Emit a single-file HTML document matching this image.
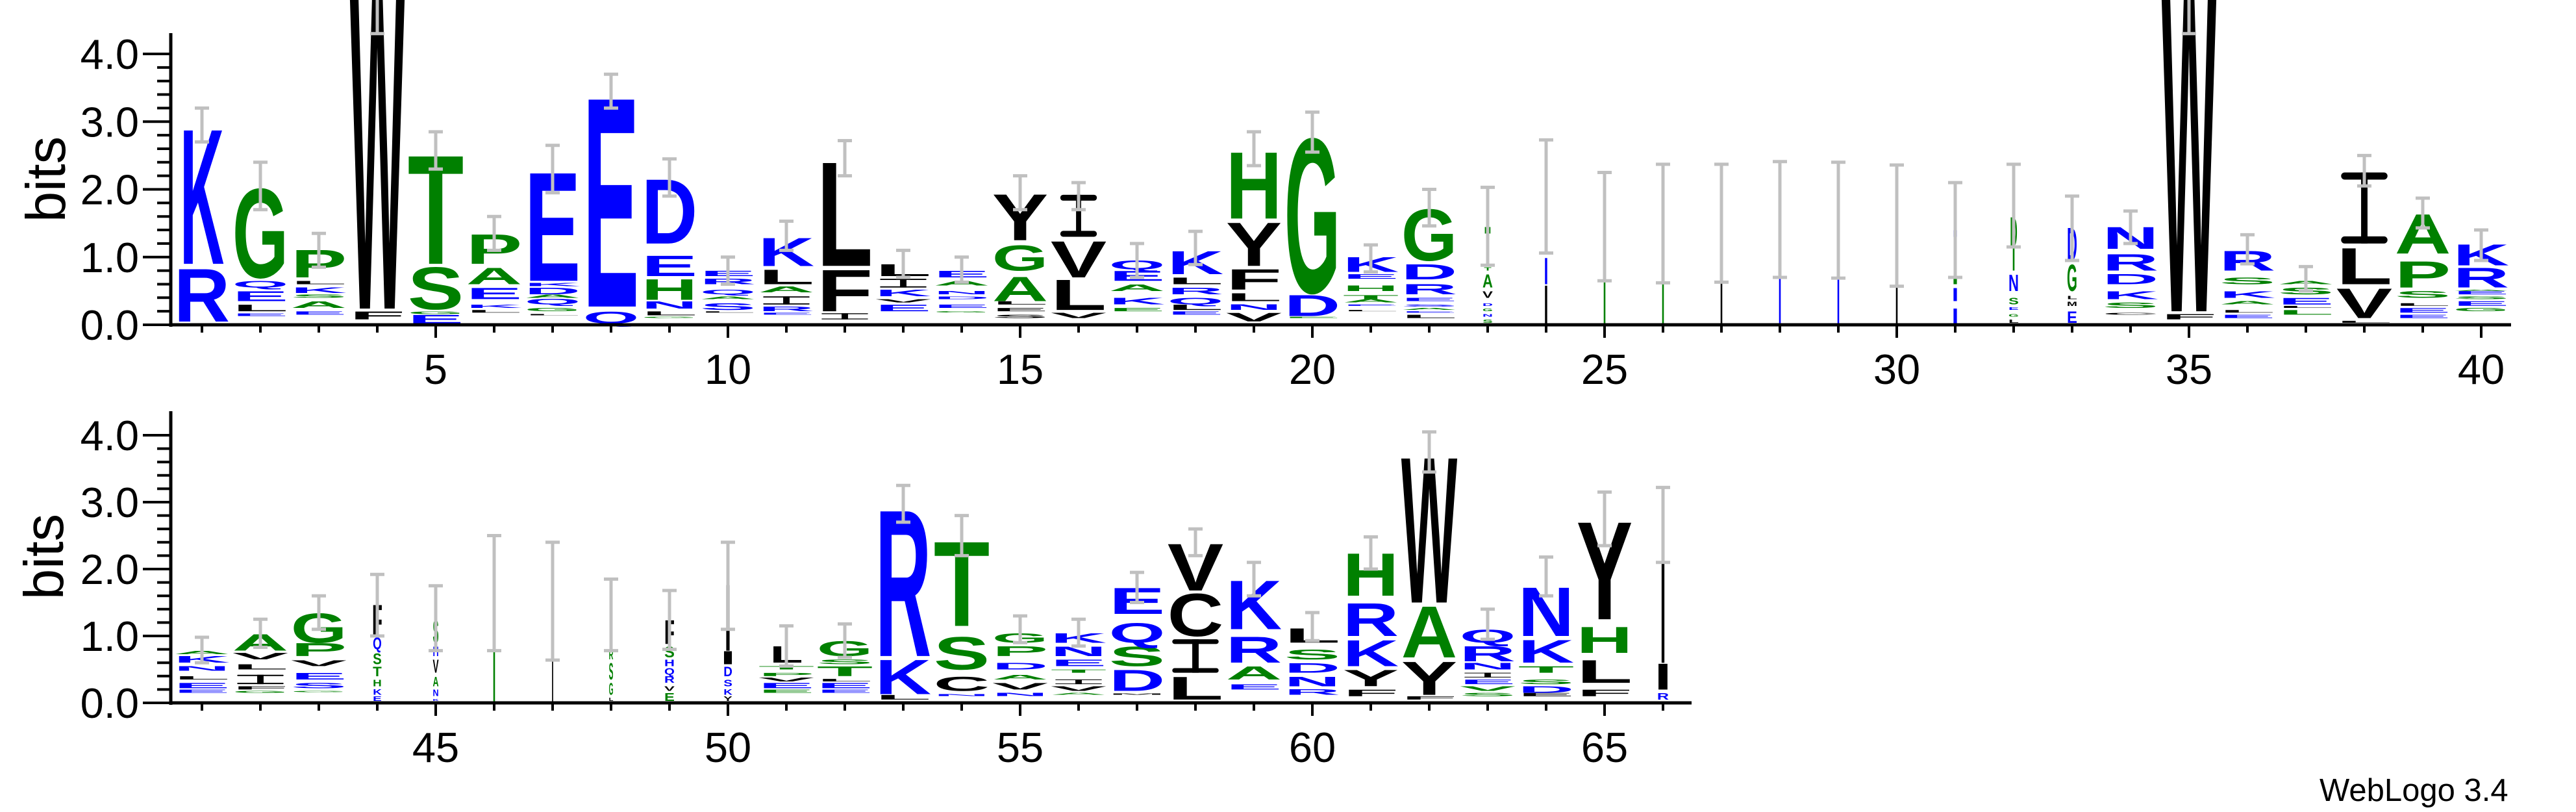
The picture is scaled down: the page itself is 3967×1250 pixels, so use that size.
<!DOCTYPE html>
<html><head><meta charset="utf-8">
<style>
html,body{margin:0;padding:0;background:#fff;}
svg{display:block;}
text{font-family:"Liberation Sans",sans-serif;}
</style></head>
<body>
<svg id="s" xmlns="http://www.w3.org/2000/svg" width="3967" height="1250" viewBox="0 0 3967 1250">
<rect width="3967" height="1250" fill="#fff"/>
<g id="logo"></g>
<g id="axes" fill="#000">
<text x="3572" y="1233" font-size="49">WebLogo 3.4</text>
<text transform="translate(100,276) rotate(-90)" font-size="85" text-anchor="middle">bits</text>
<text transform="translate(97,857) rotate(-90)" font-size="85" text-anchor="middle">bits</text>
</g>
</svg>
<script>
(function(){
var NS="http://www.w3.org/2000/svg";
var C={b:"#0000ff",g:"#008000",k:"#000000"};
var D={
1:[[["R",.05,.85,"b"],["K",.9,2.95,"b",60]],[2.7,3.2]],
2:[[["E",.13,.17,"b"],["L",.2,.3,"k"],["E",.35,.5,"b"],["Q",.55,.65,"b"],["G",.7,2.05,"g"]],[1.7,2.4]],
3:[[["E",.15,.2,"b"],["A",.25,.35,"g"],["S",.4,.45,"g"],["K",.47,.55,"b"],["L",.6,.65,"k"],["P",.7,1.12,"g"]],[.85,1.35]],
4:[[["F",.08,.2,"k"],["W",.24,5.3,"k"]],[4.3,6]],
5:[[["E",.02,.15,"b"],["G",.16,.2,"g"],["S",.23,.87,"g"],["T",.9,2.55,"g"]],[2.3,2.85]],
6:[[["L",.18,.22,"k"],["K",.25,.3,"b"],["E",.38,.55,"b"],["A",.6,.85,"g"],["P",.9,1.35,"g"]],[1.1,1.6]],
7:[[["L",.14,.16,"k"],["G",.2,.25,"g"],["Q",.3,.38,"b"],["A",.4,.45,"g"],["D",.45,.55,"b"],["K",.57,.62,"b"],["E",.65,2.3,"b"]],[1.95,2.65]],
8:[[["Q",.02,.2,"b"],["E",.27,3.45,"b"]],[3.2,3.7]],
9:[[["G",.1,.12,"g"],["L",.14,.2,"k"],["N",.24,.35,"b"],["H",.37,.68,"g"],["E",.72,1.03,"b"],["D",1.2,2.18,"b"]],[1.9,2.45]],
10:[[["L",.18,.2,"k"],["S",.22,.32,"b"],["A",.38,.42,"g"],["Q",.45,.52,"b"],["R",.6,.68,"b"],["E",.72,.8,"b"]],[.6,1.0]],
11:[[["E",.15,.18,"b"],["R",.2,.27,"b"],["I",.3,.42,"k"],["A",.48,.57,"g"],["L",.6,.82,"k"],["K",.87,1.3,"b"]],[1.1,1.53]],
12:[[["I",.08,.17,"k"],["F",.2,.83,"k"],["L",.87,2.45,"k"]],[2.2,2.72]],
13:[[["E",.2,.3,"b"],["V",.33,.38,"k"],["K",.42,.52,"b"],["I",.55,.68,"k"],["L",.72,.9,"k"]],[.7,1.1]],
14:[[["G",.18,.2,"g"],["E",.25,.3,"b"],["D",.38,.42,"b"],["N",.45,.5,"b"],["A",.58,.65,"g"],["E",.7,.8,"b"]],[.63,1.0]],
15:[[["S",.1,.15,"k"],["E",.2,.25,"k"],["L",.3,.35,"k"],["A",.35,.72,"g"],["G",.8,1.18,"g"],["Y",1.25,1.95,"k"]],[1.7,2.2]],
16:[[["V",.1,.18,"k"],["L",.22,.68,"k"],["V",.7,1.25,"k"],["I",1.3,1.92,"k",60]],[1.7,2.1]],
17:[[["E",.2,.25,"g"],["K",.3,.4,"b"],["A",.5,.6,"g"],["E",.65,.8,"b"],["Q",.82,.95,"b"]],[.7,1.2]],
18:[[["E",.15,.2,"b"],["L",.22,.3,"k"],["Q",.3,.4,"b"],["R",.45,.55,"b"],["L",.6,.7,"k"],["K",.75,1.1,"b"]],[.89,1.38]],
19:[[["V",.05,.18,"k"],["N",.22,.3,"b"],["L",.35,.47,"k"],["F",.52,.83,"k"],["Y",.87,1.53,"k"],["H",1.57,2.58,"g"]],[2.35,2.85]],
20:[[["E",.1,.12,"g"],["D",.13,.45,"b"],["G",.48,2.82,"g"]],[2.55,3.14]],
21:[[["L",.2,.22,"k"],["E",.28,.3,"b"],["A",.33,.38,"g"],["T",.38,.44,"g"],["H",.5,.58,"g"],["E",.68,.75,"b"],["K",.78,1.0,"b"]],[.78,1.18]],
22:[[["L",.1,.15,"k"],["E",.18,.2,"b"],["A",.22,.25,"g"],["S",.27,.3,"b"],["E",.35,.4,"b"],["R",.45,.6,"b"],["D",.67,.9,"b"],["G",.95,1.73,"g"]],[1.46,2.0]],
23:[[["S",.03,.08,"g",14],["N",.12,.16,"b",14],["G",.2,.24,"g",14],["D",.28,.32,"b",14],["V",.4,.5,"k",14],["A",.55,.75,"g",14],["T",.8,.85,"g",10],["I",1.35,1.45,"g",10]],[.88,2.03]],
24:[[["I",.02,.6,"k",4],["I",.6,1.0,"b",4],["I",1.7,1.9,"g",2]],[1.06,2.73]],
25:[[["I",.02,.65,"g",3],["I",.66,1.45,"b",3]],[.65,2.25]],
26:[[["I",.02,1.5,"g",3]],[.62,2.37]],
27:[[["I",.02,1.5,"k",3]],[.63,2.37]],
28:[[["I",.02,1.55,"b",3]],[.7,2.41]],
29:[[["I",.02,1.55,"b",3]],[.69,2.4]],
30:[[["I",.02,1.45,"k",3]],[.57,2.36]],
31:[[["I",.02,.25,"b",6],["I",.35,.55,"b",6],["I",.6,.7,"g",6],["I",1.3,1.4,"b",6]],[.7,2.1]],
32:[[["L",.03,.08,"k",14],["G",.12,.16,"g",14],["E",.22,.26,"b",14],["S",.3,.4,"g",14],["N",.5,.75,"b",14],["I",.8,1.15,"g",3],["D",1.15,1.6,"g",10]],[1.15,2.37]],
33:[[["E",.03,.2,"b",14],["M",.28,.34,"k",14],["L",.38,.43,"k",14],["G",.5,.9,"g",14],["D",.95,1.45,"b",14]],[.95,1.9]],
34:[[["C",.15,.18,"k"],["S",.25,.33,"g"],["K",.38,.5,"b"],["D",.6,.75,"b"],["R",.8,1.05,"b"],["N",1.12,1.45,"b"]],[1.2,1.68]],
35:[[["F",.08,.16,"k"],["W",.2,5.3,"k"]],[4.3,6]],
36:[[["E",.1,.15,"b"],["L",.18,.22,"k"],["A",.3,.35,"g"],["K",.4,.5,"b"],["S",.6,.7,"g"],["R",.8,1.1,"b"]],[.9,1.33]],
37:[[["L",.15,.22,"g"],["L",.25,.28,"k"],["E",.3,.4,"b"],["S",.45,.55,"g"],["A",.6,.65,"g"]],[.5,.86]],
38:[[["L",.03,.06,"k"],["V",.1,.55,"k"],["L",.6,1.15,"k"],["I",1.2,2.25,"k",76]],[2.05,2.5]],
39:[[["E",.1,.15,"b"],["E",.18,.25,"b"],["L",.28,.32,"k"],["S",.4,.5,"g"],["P",.55,.95,"g"],["A",1.05,1.65,"g"]],[1.43,1.87]],
40:[[["G",.2,.25,"g"],["E",.28,.35,"b"],["S",.38,.42,"g"],["E",.45,.5,"b"],["A",.5,.52,"g"],["R",.55,.85,"b"],["K",.88,1.2,"b"]],[.95,1.4]],
41:[[["E",.15,.2,"b"],["E",.22,.3,"b"],["L",.35,.4,"k"],["N",.48,.55,"b"],["K",.6,.7,"b"],["A",.73,.78,"g"]],[.6,.98]],
42:[[["G",.15,.18,"g"],["F",.2,.25,"k"],["I",.28,.42,"k"],["L",.5,.58,"k"],["V",.65,.75,"k"],["A",.78,1.03,"g"]],[.83,1.25]],
43:[[["G",.16,.18,"g"],["S",.22,.3,"b"],["E",.35,.45,"b"],["V",.55,.64,"k"],["P",.7,.9,"g"],["G",.9,1.35,"g"]],[1.1,1.6]],
44:[[["E",.03,.1,"b",12],["K",.12,.2,"b",12],["H",.25,.35,"g",12],["T",.4,.55,"g",12],["S",.58,.75,"g",12],["Q",.8,.98,"b",12],["F",1.0,1.48,"k",14]],[1.0,1.92]],
45:[[["K",.03,.06,"b",8],["N",.1,.2,"b",8],["A",.25,.4,"g",8],["V",.45,.65,"k",8],["H",.7,.85,"b",8],["S",.9,1.25,"g",8]],[.78,1.75]],
46:[[["I",.02,1.65,"g",3]],[.78,2.5]],
47:[[["I",.02,1.5,"k",2]],[.64,2.4]],
48:[[["L",.03,.08,"k",6],["G",.12,.3,"g",6],["S",.35,.6,"g",6],["R",.65,.8,"g",6],["I",.9,1.3,"g",4]],[.78,1.85]],
49:[[["E",.03,.15,"g",14],["V",.18,.25,"k",14],["R",.3,.4,"b",14],["Q",.42,.52,"b",14],["H",.55,.65,"b",14],["S",.68,.85,"g",14],["F",.88,1.25,"k",14]],[.8,1.68]],
50:[[["Y",.03,.1,"k",12],["K",.12,.2,"b",12],["S",.25,.35,"b",12],["D",.4,.55,"b",12],["I",.58,.78,"k",14],["I",.78,1.8,"k",6]],[1.1,2.4]],
51:[[["E",.15,.2,"g"],["E",.22,.3,"b"],["V",.32,.38,"k"],["P",.4,.45,"g"],["T",.5,.55,"g"],["L",.6,.85,"k",45]],[.55,1.15]],
52:[[["E",.15,.2,"b"],["E",.22,.3,"b"],["L",.32,.36,"k"],["T",.4,.55,"g"],["S",.58,.65,"g"],["G",.7,.93,"g"]],[.68,1.18]],
53:[[["L",.05,.12,"k"],["K",.13,.66,"b"],["R",.7,2.95,"b"]],[2.7,3.25]],
54:[[["N",.1,.13,"b"],["C",.18,.4,"k"],["S",.5,1.0,"g"],["T",1.15,2.45,"g"]],[2.2,2.8]],
55:[[["N",.1,.15,"b"],["V",.2,.3,"k"],["A",.35,.42,"g"],["D",.5,.6,"b"],["P",.7,.85,"g"],["G",.9,1.05,"g"]],[.9,1.3]],
56:[[["A",.12,.15,"g"],["V",.18,.25,"k"],["I",.28,.35,"k"],["T",.45,.5,"g"],["E",.55,.65,"b"],["N",.7,.85,"b"],["K",.9,1.05,"b"]],[.85,1.25]],
57:[[["M",.12,.14,"k"],["D",.18,.5,"b"],["S",.55,.85,"g"],["Q",.9,1.2,"b"],["E",1.33,1.73,"b"]],[1.5,1.95]],
58:[[["L",.05,.4,"k"],["I",.45,.95,"k",76],["C",1.0,1.65,"k"],["V",1.68,2.4,"k"]],[2.2,2.6]],
59:[[["E",.2,.28,"b"],["A",.35,.55,"g"],["R",.6,1.0,"b"],["K",1.1,1.85,"b"]],[1.6,2.1]],
60:[[["R",.12,.2,"b"],["N",.25,.4,"b"],["D",.45,.6,"b"],["S",.65,.8,"g"],["L",.9,1.12,"k"]],[.93,1.35]],
61:[[["F",.1,.2,"k"],["Y",.25,.5,"k"],["K",.55,.95,"b"],["R",1.0,1.5,"b"],["H",1.6,2.25,"g"]],[2.0,2.48]],
62:[[["F",.05,.1,"k"],["Y",.12,.63,"k"],["A",.68,1.47,"g"],["W",1.5,3.74,"k"]],[3.45,4.05]],
63:[[["S",.1,.15,"g"],["V",.18,.25,"g"],["E",.28,.35,"b"],["I",.38,.45,"k"],["N",.5,.6,"b"],["R",.62,.85,"b"],["Q",.9,1.1,"b"]],[.95,1.4]],
64:[[["E",.1,.15,"k"],["D",.15,.25,"b"],["S",.28,.35,"g"],["T",.45,.55,"g"],["K",.6,.95,"b"],["N",1.0,1.75,"b"]],[1.6,2.18]],
65:[[["F",.1,.2,"k"],["L",.3,.65,"k"],["H",.75,1.15,"g"],["Y",1.25,2.75,"k"]],[2.35,3.15]],
66:[[["R",.05,.15,"b",16],["I",.2,.6,"k",16],["I",.6,2.65,"k",5]],[2.1,3.22]]
};
var ADV={A:.722,C:.722,D:.722,E:.667,F:.611,G:.778,H:.722,I:.278,K:.722,L:.611,M:.833,N:.722,P:.667,Q:.778,R:.722,S:.667,T:.611,V:.667,W:.944,Y:.667};
var g=document.getElementById("logo");
var ax=document.getElementById("axes");
function el(n,a,p){var e=document.createElementNS(NS,n);for(var k in a)e.setAttribute(k,a[k]);(p||g).appendChild(e);return e;}
function panel(p){return p<=40?{base:500,unit:104.25,cx:311+(p-1)*90}:{base:1082,unit:103,cx:311+(p-41)*90};}
for(var p=1;p<=66;p++){
  var d=D[p];if(!d)continue;var P=panel(p);
  d[0].forEach(function(L){
    var ch=L[0],y0=P.base-L[1]*P.unit,y1=P.base-L[2]*P.unit,h=y0-y1,w=L[4]||76;
    if(h<1)h=1;
    var col=C[L[3]];
    if(ch==="I"&&w>20){
      var bh=Math.max(1,Math.min(h*0.14,11)),sw=Math.max(2,w*0.13),bw=w*0.94;
      el("rect",{x:P.cx-bw/2,y:y1,width:bw,height:bh,rx:Math.min(bh/2,6),fill:col});
      el("rect",{x:P.cx-bw/2,y:y0-bh,width:bw,height:bh,rx:Math.min(bh/2,6),fill:col});
      el("rect",{x:P.cx-sw/2,y:y1,width:sw,height:h,fill:col});
      return;
    }
    var adv=(ADV[ch]||.7)*100;
    var ink=adv*(ch==="I"?0.6:0.88);
    var sx=w/ink, sy=h/71.6;
    var t=el("text",{"font-size":"100","font-weight":"bold","text-anchor":"middle",fill:col,
      transform:"translate("+P.cx+","+y0+") scale("+sx.toFixed(4)+","+sy.toFixed(4)+")"});
    t.textContent=ch;
  });
  var e=d[1],ya=P.base-e[0]*P.unit,yb=P.base-e[1]*P.unit;
  el("line",{x1:P.cx,x2:P.cx,y1:ya,y2:yb,stroke:"#c0c0c0","stroke-width":5});
  el("line",{x1:P.cx-11,x2:P.cx+11,y1:ya,y2:ya,stroke:"#c0c0c0","stroke-width":5});
  el("line",{x1:P.cx-11,x2:P.cx+11,y1:yb,y2:yb,stroke:"#c0c0c0","stroke-width":5});
}
function axes(base,unit,top,n0,n1,xend){
  el("line",{x1:263,x2:263,y1:top,y2:base+3,stroke:"#000","stroke-width":5},ax);
  el("line",{x1:263,x2:xend,y1:base,y2:base,stroke:"#000","stroke-width":5},ax);
  for(var i=0;i<=20;i++){
    var y=base-i*0.2*unit,maj=(i%5===0);
    el("line",{x1:maj?220:242,x2:263,y1:y,y2:y,stroke:"#000","stroke-width":4},ax);
    if(maj){var t=el("text",{x:214,y:y+23,"font-size":"65","text-anchor":"end",fill:"#000"},ax);t.textContent=(i/5).toFixed(1);}
  }
  for(var p=n0;p<=n1;p++){
    var x=311+(p-n0)*90,maj=(p%5===0);
    el("line",{x1:x,x2:x,y1:base,y2:base+(maj?20:12),stroke:"#000","stroke-width":4},ax);
    if(maj){var t=el("text",{x:x,y:base+91,"font-size":"65","text-anchor":"middle",fill:"#000"},ax);t.textContent=p;}
  }
}
axes(500,104.25,51,1,40,3867);
axes(1082,103,633,41,66,2605);
})();
</script>
</body></html>
